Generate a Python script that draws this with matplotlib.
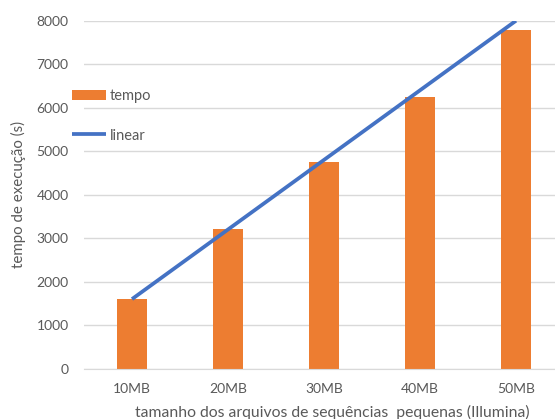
import numpy as np
import matplotlib
matplotlib.use("Agg")
import matplotlib.pyplot as plt

plt.rcParams['font.family'] = ['Lato', 'DejaVu Sans']

# tempo de execução por tamanho de arquivo
categorias = ['10MB', '20MB', '30MB', '40MB', '50MB']
tempo = [1600, 3200, 4750, 6240, 7790]
linear = [1600, 3200, 4800, 6400, 8000]

laranja = '#ED7D31'
azul = '#4472C4'
cinza_texto = '#595959'
cinza_grade = '#D9D9D9'

fig = plt.figure(figsize=(5.55, 4.19), dpi=100)
ax = fig.add_axes([84 / 555, 50.3 / 419, 480 / 555, 348 / 419])

x = np.arange(len(categorias))
barras = ax.bar(x, tempo, width=0.31, color=laranja, label='tempo', zorder=2)
linha, = ax.plot(x, linear, color=azul, linewidth=2.7, label='linear', zorder=3,
                 solid_capstyle='butt')

ax.set_xlim(-0.5, len(categorias) - 0.5)
ax.set_ylim(0, 8000)
ax.set_yticks(np.arange(0, 8001, 1000))
ax.set_xticks(x)
ax.set_xticklabels(categorias)

ax.grid(axis='y', color=cinza_grade, linewidth=1, zorder=0)
ax.set_axisbelow(True)
for lado in ['top', 'right', 'left']:
    ax.spines[lado].set_visible(False)
ax.spines['bottom'].set_color(cinza_grade)
ax.tick_params(axis='both', length=0, labelsize=10, colors=cinza_texto)
ax.tick_params(axis='y', pad=11)
ax.tick_params(axis='x', pad=10)

fig.text(18 / 555, 1 - 195 / 419, 'tempo de execução (s)', rotation=90,
         ha='center', va='center', fontsize=10.8, color=cinza_texto)
fig.text(332 / 555, 1 - 412 / 419,
         'tamanho dos arquivos de sequências  pequenas (Illumina)',
         ha='center', va='center', fontsize=11.3, color=cinza_texto)

leg = fig.legend([barras, linha], ['tempo', 'linear'], loc='upper left',
                 bbox_to_anchor=(72 / 555, 1 - 89 / 419),
                 bbox_transform=fig.transFigure, frameon=False, fontsize=10.5,
                 borderpad=0, borderaxespad=0, handlelength=2.3,
                 handletextpad=0.3, labelspacing=1.75)
for t in leg.get_texts():
    t.set_color(cinza_texto)

fig.savefig('out.png', dpi=100)
